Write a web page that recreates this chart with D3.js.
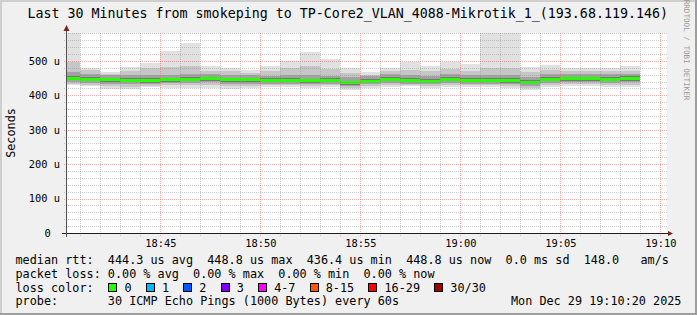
<!DOCTYPE html>
<html lang="en">
<head>
<meta charset="UTF-8">
<title>smokeping - TP-Core2_VLAN_4088-Mikrotik_1</title>
<style>
    body { margin: 0; background: #fff; }
    #chart svg { display: block; }
    #chart text { font-family: "DejaVu Sans Mono", monospace; white-space: pre; fill: #000; }
</style>
</head>
<body>
<div id="chart"></div>
<script src="https://cdn.jsdelivr.net/npm/d3@7/dist/d3.min.js"></script>
<script>
// bucket end times, one per 60s step
var times = ["18:41", "18:42", "18:43", "18:44", "18:45", "18:46", "18:47", "18:48", "18:49", "18:50",
             "18:51", "18:52", "18:53", "18:54", "18:55", "18:56", "18:57", "18:58", "18:59", "19:00",
             "19:01", "19:02", "19:03", "19:04", "19:05", "19:06", "19:07", "19:08", "19:09"];

// rtt values in microseconds
var median = [448.6, 446.1, 445.8, 443.2, 442.9, 445.0, 446.3, 448.4, 445.2, 444.7,
              443.1, 443.4, 442.2, 443.0, 436.4, 440.8, 446.9, 443.3, 441.2, 447.0,
              443.5, 443.1, 442.9, 438.2, 446.8, 448.5, 448.3, 446.9, 448.8];
var pingMax = [581, 480, 469, 481, 494, 528, 552, 484, 479, 474,
               484, 501, 525, 506, 480, 467, 480, 496, 484, 496,
               490, 581, 581, 482, 488, 480, 480, 480, 484];
var pingP90 = [496, 474, 462, 470, 478, 482, 486, 472, 470, 466,
               472, 478, 484, 476, 466, 460, 470, 474, 470, 476,
               472, 480, 478, 468, 474, 472, 470, 470, 472];
var pingP75 = [467, 461, 458, 458, 458, 460, 461, 462, 459, 458,
               457, 458, 458, 457, 452, 455, 461, 458, 456, 461,
               458, 460, 459, 454, 461, 462, 462, 461, 462];
var pingP60 = [455, 452, 451, 449, 449, 451, 452, 454, 451, 450,
               449, 449, 448, 449, 443, 447, 453, 449, 447, 453,
               449, 450, 449, 445, 453, 454, 454, 453, 455];
var pingP40 = [444, 441, 440, 438, 437, 440, 441, 443, 440, 439,
               438, 438, 437, 438, 431, 436, 442, 438, 436, 442,
               438, 438, 437, 432, 441, 443, 443, 441, 443];
var pingP25 = [439, 436, 433, 432, 433, 435, 436, 438, 433, 434,
               433, 434, 432, 434, 426, 432, 437, 434, 432, 437,
               434, 433, 432, 426, 436, 438, 438, 436, 438];
var pingP10 = [434, 431, 426, 425, 428, 429, 430, 430, 426, 428,
               429, 429, 427, 429, 420, 427, 431, 430, 427, 431,
               429, 429, 428, 420, 430, 432, 432, 430, 431];
var pingMin = [429, 426, 419, 418, 424, 422, 422, 422, 418, 422,
               424, 424, 421, 424, 414, 422, 424, 426, 422, 424,
               424, 425, 422, 414, 424, 426, 426, 424, 424];
// lost pings per step (index into lossColors)
var loss = [0, 0, 0, 0, 0, 0, 0, 0, 0, 0, 0, 0, 0, 0, 0, 0, 0, 0, 0, 0, 0, 0, 0, 0, 0, 0, 0, 0, 0];

var yTicks = [0, 100, 200, 300, 400, 500];
var lossLabels = ["0", "1", "2", "3", "4-7", "8-15", "16-29", "30/30"];
var lossColors = ["#26ff00", "#00b8ff", "#0059ff", "#7e00ff", "#ff00ff", "#ff5500", "#ff0000", "#a10000"];

var legendLines = [
    "median rtt:  444.3 us avg  448.8 us max  436.4 us min  448.8 us now  0.0 ms sd  148.0   am/s",
    "packet loss: 0.00 % avg  0.00 % max  0.00 % min  0.00 % now"
];
var titleText = "Last 30 Minutes from smokeping to TP-Core2_VLAN_4088-Mikrotik_1_(193.68.119.146)";
var probeText = "probe:       30 ICMP Echo Pings (1000 Bytes) every 60s";
var dateText = "Mon Dec 29 19:10:20 2025";

var W = 697, H = 315;
var pL = 67, pR = 667, pT = 33, pB = 233;
var charW = 7.11;

var svg = d3.select("#chart").append("svg")
    .attr("width", W).attr("height", H);

// frame
svg.append("rect").attr("width", W).attr("height", H).attr("fill", "#f0f0f0");
svg.append("rect").attr("x", 0).attr("y", 0).attr("width", W).attr("height", 2).attr("fill", "#cfcfcf");
svg.append("rect").attr("x", 0).attr("y", 0).attr("width", 2).attr("height", H).attr("fill", "#cfcfcf");
svg.append("rect").attr("x", W - 2).attr("y", 0).attr("width", 2).attr("height", H).attr("fill", "#9e9e9e");
svg.append("rect").attr("x", 0).attr("y", H - 2).attr("width", W).attr("height", 2).attr("fill", "#9e9e9e");

// canvas
svg.append("rect").attr("x", pL).attr("y", pT)
    .attr("width", pR - pL).attr("height", pB - pT).attr("fill", "#fff");

var parseT = d3.timeParse("%H:%M");
var tEnd = times.map(parseT);
var t0 = new Date(1900, 0, 1, 18, 40, 20), t1 = new Date(1900, 0, 1, 19, 10, 20);

var x = d3.scaleTime().domain([t0, t1]).range([pL, pR]);
var y = d3.scaleLinear().domain([0, 581]).range([pB, pT]);

function bx0(i) { return Math.max(pL, Math.round(x(d3.timeMinute.offset(tEnd[i], -1)))); }
function bx1(i) { return Math.round(x(tEnd[i])); }

// smoke, outer to inner
var layers = [
    {lo: pingMin, hi: pingMax, color: "#e1e1e1"},
    {lo: pingP10, hi: pingP90, color: "#c6c6c6"},
    {lo: pingP25, hi: pingP75, color: "#a2a2a2"},
    {lo: pingP40, hi: pingP60, color: "#777777"}
];
var smoke = svg.append("g").attr("class", "smoke").attr("shape-rendering", "crispEdges");
layers.forEach(function (l) {
    smoke.append("g").selectAll("rect")
        .data(times)
        .enter().append("rect")
        .attr("x", function (d, i) { return bx0(i); })
        .attr("width", function (d, i) { return bx1(i) - bx0(i); })
        .attr("y", function (d, i) { return y(l.hi[i]); })
        .attr("height", function (d, i) { return y(l.lo[i]) - y(l.hi[i]); })
        .attr("fill", l.color);
});

// median band coloured by loss
svg.append("g").attr("shape-rendering", "crispEdges").selectAll("rect")
    .data(median)
    .enter().append("rect")
    .attr("x", function (d, i) { return bx0(i); })
    .attr("width", function (d, i) { return bx1(i) - bx0(i); })
    .attr("y", function (d) { return Math.round(y(d) - 1.5); })
    .attr("height", 3)
    .attr("fill", function (d, i) { return lossColors[loss[i]]; });

// grid on top
var grid = svg.append("g").attr("shape-rendering", "crispEdges");
var hLines = d3.range(20, 581, 20);
grid.selectAll("line.h")
    .data(hLines)
    .enter().append("line")
    .attr("x1", pL - 3).attr("x2", pR)
    .attr("y1", function (d) { return Math.round(y(d)) + 0.5; })
    .attr("y2", function (d) { return Math.round(y(d)) + 0.5; })
    .attr("stroke", function (d) { return d % 100 === 0 ? "rgba(255,80,80,0.5)" : "rgba(140,140,140,0.45)"; })
    .attr("stroke-dasharray", "1,1");
var vLines = d3.timeMinute.range(d3.timeMinute.ceil(t0), t1);
grid.selectAll("line.v")
    .data(vLines)
    .enter().append("line")
    .attr("y1", pT).attr("y2", pB + 3)
    .attr("x1", function (d) { return Math.round(x(d)) + 0.5; })
    .attr("x2", function (d) { return Math.round(x(d)) + 0.5; })
    .attr("stroke", function (d) { return d.getMinutes() % 5 === 0 ? "rgba(255,80,80,0.5)" : "rgba(140,140,140,0.45)"; })
    .attr("stroke-dasharray", "1,1");

// axes
svg.append("line").attr("x1", pL - 5).attr("x2", pR + 3)
    .attr("y1", pB + 0.5).attr("y2", pB + 0.5)
    .attr("stroke", "#202020").attr("shape-rendering", "crispEdges");
svg.append("line").attr("x1", pL - 0.5).attr("x2", pL - 0.5)
    .attr("y1", pB + 4).attr("y2", pT - 4)
    .attr("stroke", "#505050").attr("shape-rendering", "crispEdges");
svg.append("path").attr("d", "M63.5,31 L69.5,31 L66.5,25 Z").attr("fill", "#7f1f1f");
svg.append("path").attr("d", "M668,231 L668,236 L673,233.5 Z").attr("fill", "#7f1f1f");

// tick labels
var xAxis = d3.axisBottom(x)
    .tickValues(vLines.filter(function (d) { return d.getMinutes() % 5 === 0; }))
    .tickFormat(d3.timeFormat("%H:%M"))
    .tickSize(0).tickPadding(0);
var gx = svg.append("g").attr("transform", "translate(0," + 246.5 + ")").call(xAxis);
gx.select(".domain").remove();
gx.selectAll("text").attr("dy", 0).style("font-size", "10.35px").style("font-family", "DejaVu Sans Mono");

var gy = svg.append("g");
gy.selectAll("text")
    .data(yTicks)
    .enter().append("text")
    .attr("x", function (d) { return d === 0 ? 47.5 : 60; })
    .attr("y", function (d) { return y(d) + 3.8; })
    .attr("text-anchor", function (d) { return d === 0 ? "middle" : "end"; })
    .style("font-size", "10.35px")
    .text(function (d) { return d === 0 ? "0" : d + " u"; });

svg.append("text")
    .attr("transform", "translate(15,133) rotate(-90)")
    .attr("text-anchor", "middle")
    .style("font-size", "11.8px")
    .text("Seconds");

// title and watermark
svg.append("text").attr("x", 27.5).attr("y", 18)
    .style("font-size", "13.3px").text(titleText);
svg.append("text")
    .attr("transform", "translate(683.5,50) rotate(90)")
    .attr("text-anchor", "middle")
    .style("font-size", "7.6px").style("fill", "#999")
    .text("RRDTOOL / TOBI OETIKER");

// legend
var leg = svg.append("g").style("font-size", "11.8px");
leg.selectAll("text.l")
    .data(legendLines)
    .enter().append("text")
    .attr("x", 15.5)
    .attr("y", function (d, i) { return 263.5 + i * 14; })
    .text(function (d) { return d; });

leg.append("text").attr("x", 15.5).attr("y", 291.5).text("loss color:");
var bxPos = 108.3;
lossLabels.forEach(function (lab, i) {
    leg.append("rect")
        .attr("x", Math.round(bxPos) + 0.5).attr("y", 283.5)
        .attr("width", 8).attr("height", 8)
        .attr("fill", lossColors[i]).attr("stroke", "#000");
    leg.append("text").attr("x", bxPos + 16.2).attr("y", 291.5).text(lab);
    bxPos += 16.7 + lab.length * charW + 13.6;
});

leg.append("text").attr("x", 15.5).attr("y", 305).text(probeText);
leg.append("text").attr("x", 511).attr("y", 305).text(dateText);
</script>
</body>
</html>
